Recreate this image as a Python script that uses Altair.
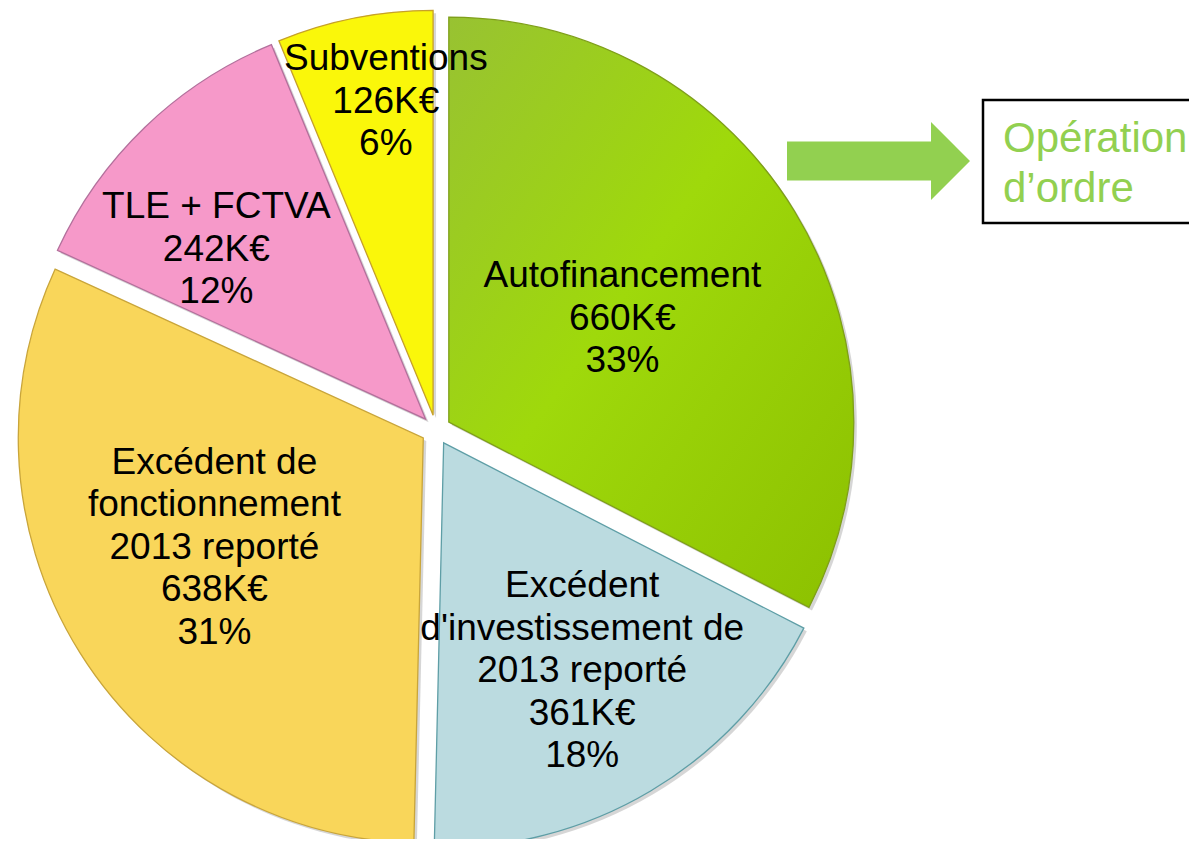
import json
import altair as alt
import pandas as pd

# ---------------- data ----------------
names = [
    "Autofinancement",
    "Excédent d'investissement de 2013 reporté",
    "Excédent de fonctionnement 2013 reporté",
    "TLE + FCTVA",
    "Subventions",
]
name_lines = [
    "Autofinancement",
    "Excédent\nd'investissement de\n2013 reporté",
    "Excédent de\nfonctionnement\n2013 reporté",
    "TLE + FCTVA",
    "Subventions",
]
values_k = [660, 361, 638, 242, 126]
side_note = "Opération\nd’ordre"

total = sum(values_k)
labels = [
    f"{n}\n{v}K€\n{round(v * 100 / total)}%" for n, v in zip(name_lines, values_k)
]
df = pd.DataFrame(
    {"name": names, "label": labels, "value": values_k, "order": list(range(len(names)))}
)

# ---------------- layout / style ----------------
W, H = 1181, 831
CX, CY = 428, 422          # pie centre inside the chart
R = 405                    # pie radius
EXPLODE = 15               # explode distance
FONT = "Liberation Sans"
LINE_H = 42.5

# label placement: (radius from centre, angular nudge in degrees)
label_place = {
    names[0]: (217, 0.6),
    names[1]: (282, -0.5),
    names[2]: (251, 4.0),
    names[3]: (284, -6.8),
    names[4]: (332, 2.5),
}

slice_style = {
    names[0]: dict(
        fill={
            "gradient": "linear", "x1": 0, "y1": 0, "x2": 1, "y2": 1,
            "stops": [
                {"offset": 0.0, "color": "#98c232"},
                {"offset": 0.45, "color": "#9fd90b"},
                {"offset": 1.0, "color": "#8cc000"},
            ],
        },
        stroke="#7f9f1a",
    ),
    names[1]: dict(fill="#bbdbe0", stroke="#5e9ea6"),
    names[2]: dict(fill="#f9d65a", stroke="#c9a53a"),
    names[3]: dict(fill="#f699c9", stroke="#b3709c"),
    names[4]: dict(fill="#faf70a", stroke="#c6a02a"),
}

GREEN = "#92d050"


def expr_map(mapping, idx):
    parts = []
    for k, v in mapping.items():
        parts.append(f"datum.name === {json.dumps(k)} ? {v[idx]} : ")
    return "(" + "".join(parts) + "0)"


base = (
    alt.Chart(df)
    .transform_joinaggregate(total="sum(value)")
    .transform_window(cum="sum(value)", sort=[alt.SortField("order")], frame=[None, 0])
    .transform_calculate(
        end="2*PI*datum.cum/datum.total",
        start="2*PI*(datum.cum-datum.value)/datum.total",
    )
    .transform_calculate(mid="(datum.start+datum.end)/2")
    .transform_calculate(
        cx=f"{CX}+{EXPLODE}*sin(datum.mid)",
        cy=f"{CY}-{EXPLODE}*cos(datum.mid)",
        lr=expr_map(label_place, 0),
        la=f"datum.mid+{expr_map(label_place, 1)}*PI/180",
        nl="length(split(datum.label, '\\n'))",
    )
    .transform_calculate(
        sx="datum.cx+3",
        sy="datum.cy+3",
        tx=f"{CX}+datum.lr*sin(datum.la)",
        ty=f"{CY}-datum.lr*cos(datum.la)-(datum.nl-1)/2*{LINE_H}",
    )
)

theta_enc = dict(
    theta=alt.Theta("start:Q", scale=None, stack=None),
    theta2=alt.Theta2("end:Q"),
)

shadow = base.mark_arc(radius=R, fill="#000000", opacity=0.16).encode(
    x=alt.X("sx:Q", scale=None, axis=None),
    y=alt.Y("sy:Q", scale=None, axis=None),
    **theta_enc,
)

slice_layers = []
for n in names:
    st = slice_style[n]
    slice_layers.append(
        base.transform_filter(alt.datum.name == n)
        .mark_arc(radius=R, fill=st["fill"], stroke=st["stroke"], strokeWidth=1.3, opacity=1)
        .encode(
            x=alt.X("cx:Q", scale=None, axis=None),
            y=alt.Y("cy:Q", scale=None, axis=None),
            **theta_enc,
        )
    )

text = base.mark_text(
    font=FONT, fontSize=37, lineHeight=LINE_H, lineBreak="\n",
    align="center", baseline="middle", color="#000000",
).encode(
    x=alt.X("tx:Q", scale=None, axis=None),
    y=alt.Y("ty:Q", scale=None, axis=None),
    text="label:N",
)

one = pd.DataFrame({"note": [side_note]})

arrow_path = (
    "M-1,-0.213L0.574,-0.213L0.574,-0.426L1,0L0.574,0.426L0.574,0.213L-1,0.213Z"
)
arrow = alt.Chart(one).mark_point(
    shape=arrow_path, size=183 ** 2, filled=True, fill=GREEN, strokeWidth=0, opacity=1
).encode(x=alt.value(870.5), y=alt.value(153))

box = alt.Chart(one).mark_rect(
    fill="white", stroke="#000000", strokeWidth=2.5
).encode(x=alt.value(975), x2=alt.value(1200), y=alt.value(92), y2=alt.value(215))

note = alt.Chart(one).mark_text(
    font=FONT, fontSize=42, lineHeight=50, lineBreak="\n",
    align="left", baseline="alphabetic", color=GREEN,
).encode(x=alt.value(995), y=alt.value(144), text="note:N")

chart = (
    alt.layer(shadow, *slice_layers, text, arrow, box, note)
    .properties(width=W, height=H, autosize="none", padding=0, background="white")
    .configure_view(stroke=None)
)

chart.save("out.html", embed_options={"renderer": "svg", "actions": False})
